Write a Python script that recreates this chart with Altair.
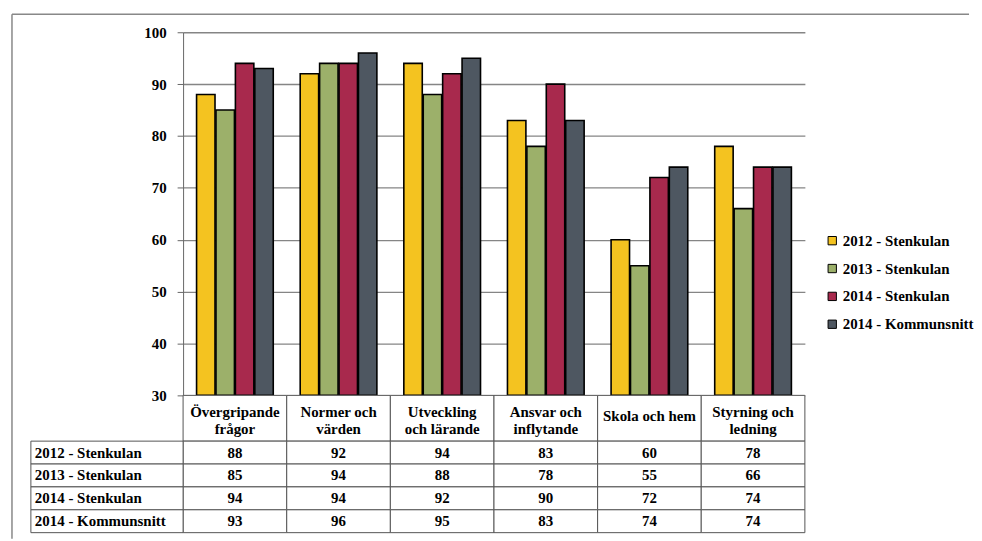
import altair as alt
import pandas as pd

categories = ["Övergripande frågor", "Normer och värden", "Utveckling och lärande",
              "Ansvar och inflytande", "Skola och hem", "Styrning och ledning"]
header_labels = ["Övergripande\nfrågor", "Normer och\nvärden", "Utveckling\noch lärande",
                 "Ansvar och\ninflytande", "Skola och hem", "Styrning och\nledning"]
series = ["2012 - Stenkulan", "2013 - Stenkulan", "2014 - Stenkulan", "2014 - Kommunsnitt"]
v2012 = [88, 92, 94, 83, 60, 78]
v2013 = [85, 94, 88, 78, 55, 66]
v2014 = [94, 94, 92, 90, 72, 74]
v2014k = [93, 96, 95, 83, 74, 74]
colors = ["#F4C320", "#9CB06A", "#A8294D", "#4E5761"]
y_ticks = [30, 40, 50, 60, 70, 80, 90, 100]

FONT = "'Liberation Serif', 'Times New Roman', 'DejaVu Serif', serif"
FS = 15
W = 625
H_BAR = 365
H_HEAD = 46
H_TAB = 92
LH = 17

rows = []
for s, vals in zip(series, [v2012, v2013, v2014, v2014k]):
    for c, v in zip(categories, vals):
        rows.append({"category": c, "series": s, "value": v})
df = pd.DataFrame(rows)
df_head = pd.DataFrame({"category": categories, "label": header_labels})
df_series = pd.DataFrame({"series": series})
one = pd.DataFrame({"a": [0]})

xcat = alt.X("category:N", sort=categories, axis=None,
             scale=alt.Scale(paddingInner=0.26, paddingOuter=0.13))

bars = alt.Chart(df).mark_bar(stroke="black", strokeWidth=1.6).encode(
    x=xcat,
    xOffset=alt.XOffset("series:N", sort=series, scale=alt.Scale(paddingInner=0.05)),
    y=alt.Y("value:Q", title=None,
            scale=alt.Scale(domain=[30, 100], nice=False, zero=False),
            axis=alt.Axis(values=y_ticks, grid=True, gridColor="#858585", gridWidth=1.3,
                          domainColor="#666", tickColor="#666", tickSize=6,
                          labelFont=FONT, labelFontSize=FS, labelFontWeight="bold",
                          labelColor="black", labelPadding=11)),
    y2=alt.datum(30),
    color=alt.Color("series:N", sort=series,
                    scale=alt.Scale(domain=series, range=colors),
                    legend=alt.Legend(title=None, orient="none", legendX=645, legendY=202,
                                      symbolType="square", symbolSize=70,
                                      symbolStrokeColor="black", symbolStrokeWidth=1,
                                      labelFont=FONT, labelFontSize=FS, labelFontWeight="bold",
                                      labelColor="black", rowPadding=12, labelOffset=3)),
)

frame_top = alt.Chart(one).mark_rule(color="#888", strokeWidth=1.5).encode(
    x=alt.value(-172), x2=alt.value(790), y=alt.value(-18))

bar_chart = alt.layer(frame_top, bars).properties(width=W, height=H_BAR)

xband = alt.X("category:N", sort=categories, axis=None,
              scale=alt.Scale(paddingInner=0, paddingOuter=0))

head_rect = alt.Chart(df_head).mark_rect(fill="white", stroke="#555", strokeWidth=1).encode(
    x=xband, y=alt.value(0), y2=alt.value(H_HEAD))
head_text = alt.Chart(df_head).transform_calculate(
    nl="indexof(datum.label, '\\n') >= 0 ? 'two' : 'one'"
).mark_text(font=FONT, fontSize=FS, fontWeight="bold",
            color="black", lineBreak="\n", lineHeight=LH,
            baseline="middle").encode(
    x=xband,
    y=alt.Y("nl:N", axis=None,
            scale=alt.Scale(domain=["two", "one"], range=[H_HEAD / 2 - LH / 2, H_HEAD / 2])),
    text="label:N")
head_chart = alt.layer(head_rect, head_text).properties(width=W, height=H_HEAD)

yband = alt.Y("series:N", sort=series, axis=None,
              scale=alt.Scale(paddingInner=0, paddingOuter=0))

tab_rect = alt.Chart(df).mark_rect(fill="white", stroke="#555", strokeWidth=1).encode(
    x=xband, y=yband)
tab_text = alt.Chart(df).mark_text(font=FONT, fontSize=FS, fontWeight="bold",
                                   color="black").encode(
    x=xband, y=yband, text="value:Q")
left_rect = alt.Chart(df_series).mark_rect(fill="white", stroke="#555", strokeWidth=1).encode(
    x=alt.value(-153), x2=alt.value(0), y=yband)
left_text = alt.Chart(df_series).mark_text(font=FONT, fontSize=FS, fontWeight="bold",
                                           color="black", align="left").encode(
    x=alt.value(-149), y=yband, text="series:N")
frame_left = alt.Chart(one).mark_rule(color="#888", strokeWidth=1.5).encode(
    x=alt.value(-172), y=alt.value(-(H_BAR + H_HEAD + 18)), y2=alt.value(H_TAB + 6))
tab_chart = alt.layer(frame_left, tab_rect, tab_text, left_rect, left_text).properties(
    width=W, height=H_TAB)

chart = alt.vconcat(bar_chart, head_chart, tab_chart, spacing=0, bounds="flush").resolve_scale(
    x="independent", y="independent"
).properties(
    padding={"left": 3, "top": 4, "right": 0, "bottom": 0}
).configure_view(stroke=None)

chart.save("out.html", embed_options={"renderer": "svg", "actions": False})
